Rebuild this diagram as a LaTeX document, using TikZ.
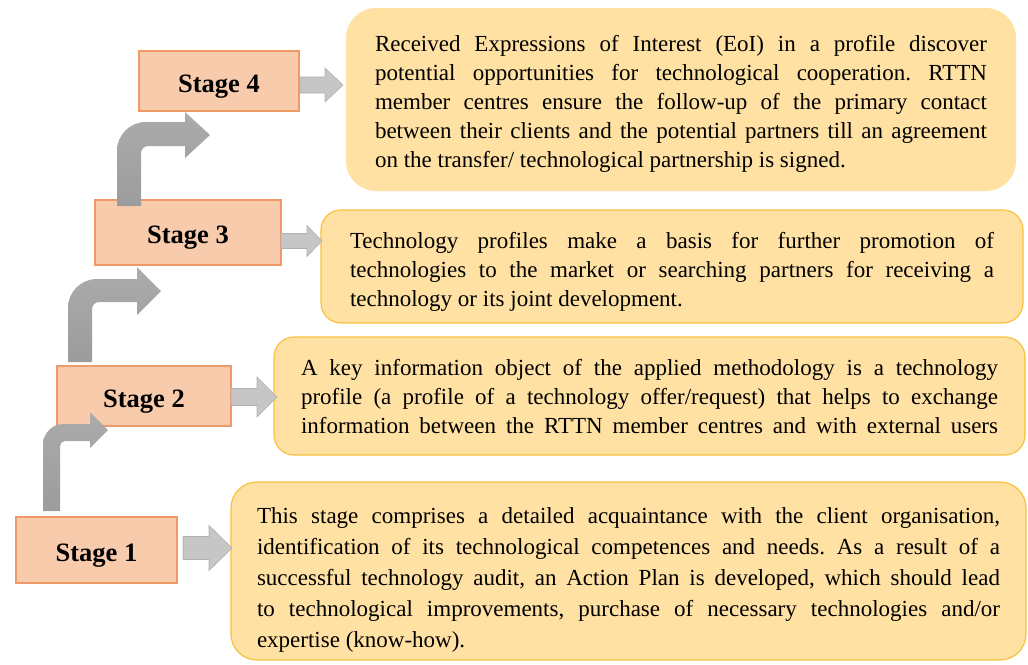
\documentclass[tikz,border=0pt]{standalone}
\usepackage{fontspec}
\setmainfont{Liberation Serif}
\definecolor{stagefill}{HTML}{F8CBAD}
\definecolor{stagedraw}{HTML}{F09A68}
\definecolor{infofill}{HTML}{FFE1A3}
\definecolor{infodraw}{HTML}{F8C23C}
\definecolor{sarrfill}{HTML}{C6C6C6}
\definecolor{sarrdraw}{HTML}{B0B0B0}
\definecolor{arrtop}{HTML}{ABABAB}
\definecolor{arrbot}{HTML}{9C9C9C}
\newcommand\infofont[1]{\fontsize{23}{#1}\selectfont\frenchspacing\pretolerance=10000\relax\tolerance=10000\relax\exhyphenpenalty=10000\relax\hyphenpenalty=10000\relax}
\newcommand\bentarr[9]{%
  \pgfmathsetmacro\bArW{#2-#1}%
  \pgfmathsetmacro\bArO{1.2*\bArW}%
  \pgfmathsetmacro\bArI{0.3*\bArW}%
  \pgfmathsetmacro\bArT{(#7+#8)/2}%
  \shade[top color=arrtop, bottom color=arrbot]
    (#1,#3) -- (#1,#4+\bArO) .. controls (#1,#4+0.45*\bArO) and (#1+0.45*\bArO,#4) .. (#1+\bArO,#4)
    -- (#6,#4) -- (#6,#7) -- (#9,\bArT) -- (#6,#8) -- (#6,#5)
    -- (#2+\bArI,#5) .. controls (#2+0.45*\bArI,#5) and (#2,#5+0.45*\bArI) .. (#2,#5+\bArI)
    -- (#2,#3) -- cycle;
}
\newcommand\smallarr[6]{%
  \filldraw[fill=sarrfill, draw=sarrdraw, line width=0.6pt]
    (#1,#3-#4) -- (#2-#6,#3-#4) -- (#2-#6,#3-#5) -- (#2,#3) -- (#2-#6,#3+#5) -- (#2-#6,#3+#4) -- (#1,#3+#4) -- cycle;
}
\tikzset{
  stagebox/.style={draw=stagedraw, fill=stagefill, line width=1.2pt, inner sep=0pt,
    text height=22pt, text depth=0pt, font=\fontsize{26.5}{30}\selectfont\bfseries},
  infobox/.style={draw=infodraw, fill=infofill, line width=1.2pt, rounded corners=20pt, inner sep=0pt},
  infotext/.style={inner sep=0pt, align=justify, font=\infofont{29}}
}
\begin{document}
\begin{tikzpicture}[x=1pt,y=-1pt]
\useasboundingbox (0,0) rectangle (1028,664);
% stage boxes
\node[stagebox, minimum width=160, minimum height=60] (s4) at (219,81) {Stage 4};
\node[stagebox, minimum width=186, minimum height=65] (s3) at (188,232.5) {Stage 3};
\node[stagebox, minimum width=174, minimum height=60] (s2) at (144,396) {Stage 2};
\node[stagebox, minimum width=161, minimum height=66] (s1) at (96.5,550) {Stage 1};
% text boxes
\node[infobox, draw=none, rounded corners=30pt, minimum width=670, minimum height=183] (t4) at (681,99.5) {};
\node[infotext, text width=612, yshift=-4pt] (t4txt) at (t4.center)
{Received Expressions of Interest (EoI) in a profile discover\linebreak
potential opportunities for technological cooperation. RTTN\linebreak
member centres ensure the follow-up of the primary contact\linebreak
between their clients and the potential partners till an agreement\linebreak
on the transfer/ technological partnership is signed.};
\node[infobox, minimum width=702, minimum height=113] (t3) at (672,266.5) {};
\node[infotext, text width=644, yshift=-5pt] (t3txt) at (t3.center)
{Technology profiles make a basis for further promotion of\linebreak
technologies to the market or searching partners for receiving a\linebreak
technology or its joint development.};
\node[infobox, minimum width=751, minimum height=118] (t2) at (649.5,396) {};
\node[infotext, text width=697, yshift=-1pt] (t2txt) at (t2.center)
{A key information object of the applied methodology is a technology\linebreak
profile (a profile of a technology offer/request) that helps to exchange\linebreak
information between the RTTN member centres and with external users\parfillskip=0pt\relax\par};
\node[infobox, rounded corners=26pt, minimum width=795, minimum height=178] (t1) at (628.5,571) {};
\node[infotext, text width=743, yshift=-9pt, font=\infofont{31}] (t1txt) at (t1.center)
{This stage comprises a detailed acquaintance with the client organisation,\linebreak
identification of its technological competences and needs. As a result of a\linebreak
successful technology audit, an Action Plan is developed, which should lead\linebreak
to technological improvements, purchase of necessary technologies and/or\linebreak
expertise (know-how).};
% small arrows
\smallarr{300}{343}{85}{8}{17}{18}
\smallarr{281}{322}{241}{7.5}{15.5}{15}
\smallarr{231}{277}{397}{8.5}{20}{20}
\smallarr{183}{232}{548}{11.5}{22.5}{23}
% bent arrows
\bentarr{43}{60}{511}{424}{441}{90}{412}{448}{108}
\bentarr{68}{92}{362}{279}{302}{137}{267}{315}{161}
\bentarr{117}{141}{206}{122}{146}{185}{112}{158}{210}
\end{tikzpicture}
\end{document}
